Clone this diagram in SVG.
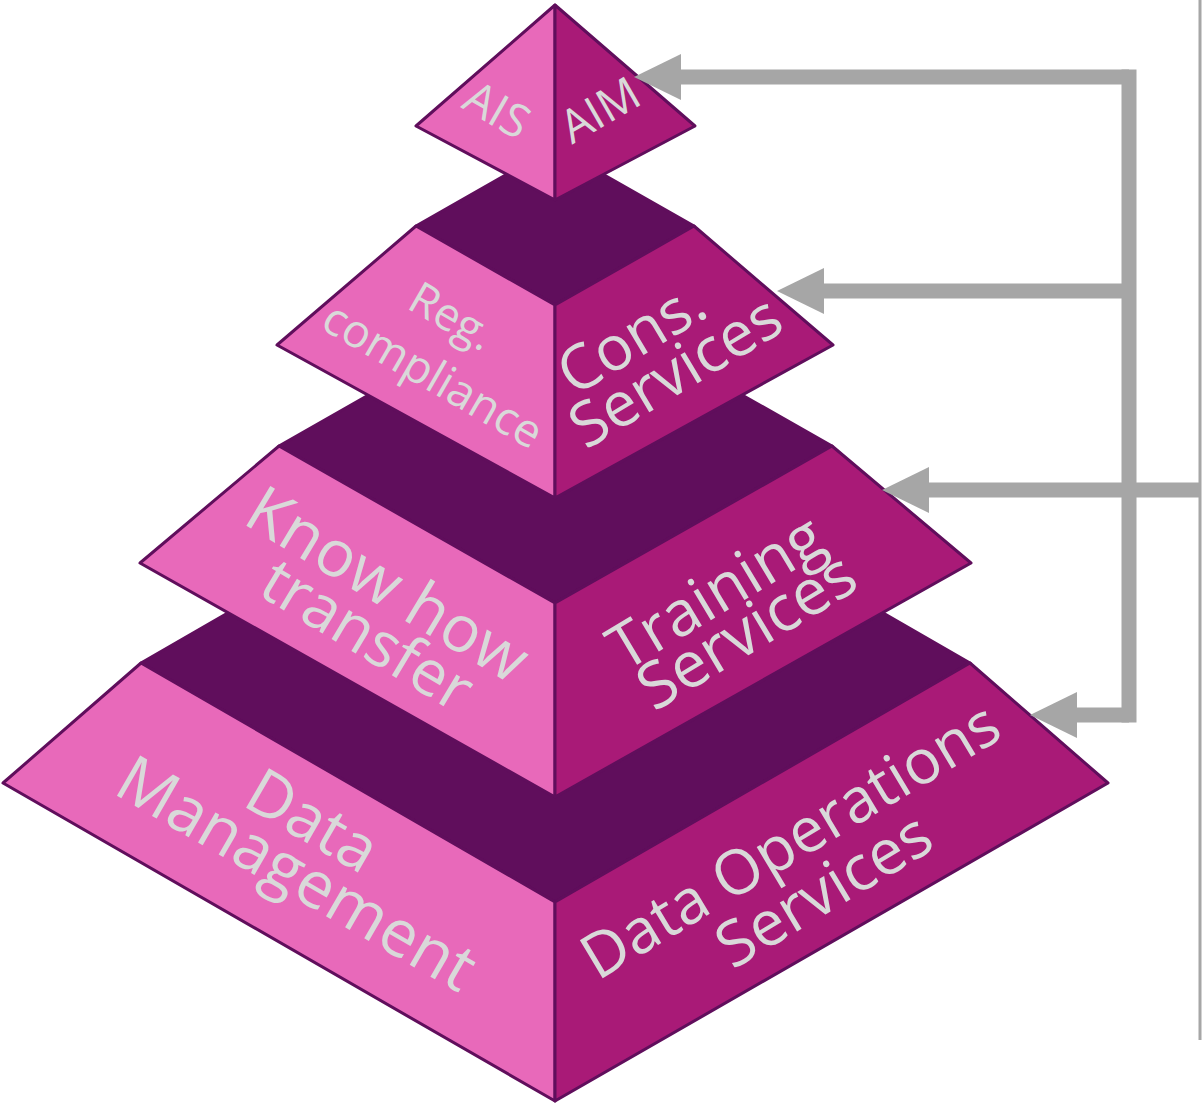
<svg xmlns="http://www.w3.org/2000/svg" width="1204" height="1110" viewBox="0 0 1204 1110">
<style>
.top{fill:#600E5C;stroke:#600E5C;stroke-width:3;stroke-linejoin:round}
.lf{fill:#E869BA;stroke:#600E5C;stroke-width:3;stroke-linejoin:round}
.rf{fill:#A91A77;stroke:#600E5C;stroke-width:3;stroke-linejoin:round}
.lbl{font-family:"Open Sans","Noto Sans",sans-serif;fill:#D9D9D9;text-anchor:middle}
.con{fill:none;stroke:#A6A6A6;stroke-width:15}
</style>
<defs>
<marker id="ah" viewBox="0 0 47 46" refX="0" refY="23" markerWidth="47" markerHeight="46" orient="auto" markerUnits="userSpaceOnUse">
<path d="M0,0 L47,23 L0,46 Z" fill="#A6A6A6"/>
</marker>
</defs>
<rect width="1204" height="1110" fill="#FFFFFF"/>

<g id="tier4">
<polygon class="top" points="141,663 555,424 970,663 555,902"/>
<polygon class="lf" points="141,663 555,902 555,1101 3,783"/>
<polygon class="rf" points="555,902 970,663 1108,783 555,1101"/>
<text class="lbl" font-size="64" transform="translate(313,820) rotate(30)" y="23">Data</text>
<text class="lbl" font-size="65" transform="translate(297,873) rotate(30)" y="23">Management</text>
<text class="lbl" font-size="62" transform="translate(790,840) rotate(-31)" y="22">Data Operations</text>
<text class="lbl" font-size="63" transform="translate(823,889) rotate(-31)" y="23">Services</text>
</g>

<g id="tier3">
<polygon class="top" points="279,446 555,289 832,446 555,603"/>
<polygon class="lf" points="279,446 555,603 555,797 140,563"/>
<polygon class="rf" points="555,603 832,446 971,563 555,797"/>
<text class="lbl" font-size="65" transform="translate(388,584) rotate(31)" y="23">Know how</text>
<text class="lbl" font-size="63" transform="translate(368,634) rotate(31)" y="23">transfer</text>
<text class="lbl" font-size="63" transform="translate(715,591) rotate(-31)" y="23">Training</text>
<text class="lbl" font-size="64" transform="translate(746,630) rotate(-31)" y="23">Services</text>
</g>

<g id="tier2">
<polygon class="top" points="416,226 555,147 694,226 555,305"/>
<polygon class="lf" points="416,226 555,305 555,498 277,345"/>
<polygon class="rf" points="555,305 694,226 833,345 555,498"/>
<text class="lbl" font-size="45" transform="translate(452,316) rotate(30)" y="16">Reg.</text>
<text class="lbl" font-size="46" transform="translate(433,375) rotate(30)" y="16">compliance</text>
<text class="lbl" font-size="62" transform="translate(631,337) rotate(-31)" y="22">Cons.</text>
<text class="lbl" font-size="62" transform="translate(675,371) rotate(-31)" y="22">Services</text>
</g>

<g id="tier1">
<polygon class="lf" points="555,5 416,126 555,200"/>
<polygon class="rf" points="555,5 695,126 555,200"/>
<text class="lbl" font-size="46" transform="translate(497,110) rotate(30)" y="16">AIS</text>
<text class="lbl" font-size="46" transform="translate(600,110) rotate(-30)" y="16">AIM</text>
</g>

<g id="connectors">
<path class="con" d="M1129,77 V715" stroke-linecap="square"/>
<path class="con" d="M1129,77 H681" marker-end="url(#ah)"/>
<path class="con" d="M1129,291 H824" marker-end="url(#ah)"/>
<path class="con" d="M1200,490 H929" marker-end="url(#ah)"/>
<path class="con" d="M1129,715 H1077" marker-end="url(#ah)"/>
<path d="M1200,0 V1040" fill="none" stroke="#A6A6A6" stroke-width="3"/>
</g>
</svg>
